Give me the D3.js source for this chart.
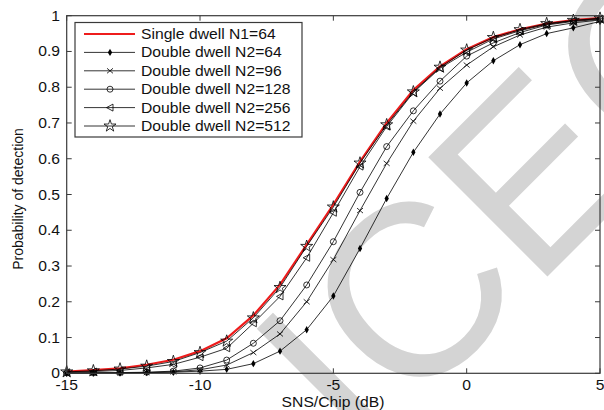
<!DOCTYPE html>
<html><head><meta charset="utf-8">
<script src="https://cdn.jsdelivr.net/npm/d3@7"></script>
<style>body{margin:0;background:#fff}svg{display:block}text{font-family:"Liberation Sans",Arial,sans-serif}</style>
</head><body><svg id="c" width="604" height="410"></svg>
<script>
const snr = [-15,-14,-13,-12,-11,-10,-9,-8,-7,-6,-5,-4,-3,-2,-1,0,1,2,3,4,5];
const singleN1_64 = [0.005,0.009,0.014,0.024,0.038,0.062,0.098,0.162,0.248,0.36,0.472,0.592,0.70,0.792,0.858,0.906,0.940,0.962,0.978,0.988,0.993];
const doubleN2_64 = [0.000,0.001,0.001,0.002,0.003,0.006,0.011,0.027,0.062,0.122,0.216,0.349,0.489,0.618,0.725,0.812,0.874,0.919,0.950,0.966,0.984];
const doubleN2_96 = [0.000,0.001,0.001,0.002,0.004,0.010,0.023,0.058,0.110,0.200,0.318,0.455,0.587,0.705,0.797,0.862,0.913,0.946,0.968,0.980,0.988];
const doubleN2_128 = [0.001,0.001,0.002,0.003,0.006,0.015,0.037,0.084,0.147,0.247,0.368,0.506,0.634,0.734,0.817,0.887,0.924,0.953,0.974,0.984,0.990];
const doubleN2_256 = [0.003,0.005,0.008,0.015,0.025,0.045,0.070,0.140,0.215,0.323,0.449,0.578,0.690,0.785,0.853,0.898,0.935,0.958,0.976,0.986,0.992];
const doubleN2_512 = [0.004,0.007,0.012,0.020,0.033,0.058,0.090,0.155,0.240,0.355,0.465,0.588,0.695,0.787,0.856,0.904,0.939,0.961,0.978,0.987,0.993];
const legendLabels = ["Single dwell N1=64","Double dwell N2=64","Double dwell N2=96","Double dwell N2=128","Double dwell N2=256","Double dwell N2=512"];
const markerTypes = ["none","diamond","x","circle","tri","star"];
const xTicks = [-15,-10,-5,0,5];
const yTicks = [0,0.1,0.2,0.3,0.4,0.5,0.6,0.7,0.8,0.9,1];
const yTickLabels = ["0","0.1","0.2","0.3","0.4","0.5","0.6","0.7","0.8","0.9","1"];
const xLabel = "SNS/Chip (dB)";
const yLabel = "Probability of detection";
const watermark = "ICEC";

const series = [singleN1_64, doubleN2_64, doubleN2_96, doubleN2_128, doubleN2_256, doubleN2_512];

const svg = d3.select("#c");
const L = 66.7, R = 600, T = 15.7, B = 373.3;
const x = d3.scaleLinear().domain([-15,5]).range([L,R]);
const y = d3.scaleLinear().domain([0,1]).range([B,T]);
const SX = 1.12, FS = 14, AX = "#3a3a3a";

svg.append("rect").attr("width",604).attr("height",410).attr("fill","#fff");

// watermark
svg.append("text").attr("transform","translate(360,464) rotate(-45)")
  .attr("font-size",245).attr("fill","#d4d4d4").text(watermark);

function stext(px, py, str, anchor, rot){
  const g = svg.append("g").attr("transform",`translate(${px},${py})` + (rot?` rotate(${rot})`:"") + (rot?"":` scale(${SX},1)`));
  g.append("text").attr("text-anchor",anchor).attr("font-size",FS).attr("fill","#111").text(str);
}

const line = d3.line().x((d,i)=>x(snr[i])).y(d=>y(d));

function marker(g, type, cx, cy){
  if(type==="diamond"){
    g.append("path").attr("d",d3.symbol(d3.symbolDiamond,16)()).attr("transform",`translate(${cx},${cy})`).attr("fill","#000");
  } else if(type==="x"){
    g.append("path").attr("d","M-3,-2.5L3,2.5M-3,2.5L3,-2.5").attr("transform",`translate(${cx},${cy})`).attr("stroke","#000").attr("stroke-width",0.8).attr("fill","none");
  } else if(type==="circle"){
    g.append("circle").attr("cx",cx).attr("cy",cy).attr("r",3).attr("stroke","#000").attr("stroke-width",0.8).attr("fill","none");
  } else if(type==="tri"){
    g.append("path").attr("d","M-3.5,0L3,-3.5L3,3.5Z").attr("transform",`translate(${cx},${cy})`).attr("stroke","#000").attr("stroke-width",0.8).attr("fill","none");
  } else if(type==="star"){
    g.append("path").attr("d",d3.symbol(d3.symbolStar,45)()).attr("transform",`translate(${cx},${cy})`).attr("stroke","#000").attr("stroke-width",0.8).attr("fill","none");
  }
}

const plot = svg.append("g");
// red single dwell first
plot.append("path").attr("d",line(singleN1_64)).attr("fill","none").attr("stroke","#ee1c1c").attr("stroke-width",2.2);
for(let s=1;s<series.length;s++){
  plot.append("path").attr("d",line(series[s])).attr("fill","none").attr("stroke","#000").attr("stroke-width",0.8);
  series[s].forEach((v,i)=>marker(plot, markerTypes[s], x(snr[i]), y(v)));
}

// axes box + ticks
const ax = svg.append("g");
ax.append("rect").attr("x",L).attr("y",T).attr("width",R-L).attr("height",B-T).attr("fill","none").attr("stroke",AX).attr("stroke-width",1.2);
xTicks.forEach(t=>{
  ax.append("line").attr("x1",x(t)).attr("x2",x(t)).attr("y1",B).attr("y2",B-5).attr("stroke",AX);
  ax.append("line").attr("x1",x(t)).attr("x2",x(t)).attr("y1",T).attr("y2",T+5).attr("stroke",AX);
  stext(x(t), 390, String(t), "middle");
});
yTicks.forEach((t,i)=>{
  ax.append("line").attr("x1",L).attr("x2",L+5).attr("y1",y(t)).attr("y2",y(t)).attr("stroke",AX);
  ax.append("line").attr("x1",R).attr("x2",R-5).attr("y1",y(t)).attr("y2",y(t)).attr("stroke",AX);
  stext(60, y(t)+5, yTickLabels[i], "end");
});
stext(333, 407, xLabel, "middle");
stext(23, 199, yLabel, "middle", -90);

// legend
const lg = svg.append("g");
lg.append("rect").attr("x",75).attr("y",22.5).attr("width",227).attr("height",114.5).attr("fill","#fff").attr("stroke",AX).attr("stroke-width",1.2);
const rowY = d3.scaleLinear().domain([0,5]).range([34,126]);
legendLabels.forEach((lab,i)=>{
  const cy = rowY(i);
  if(i===0){
    lg.append("line").attr("x1",84).attr("x2",135).attr("y1",cy).attr("y2",cy).attr("stroke","#ee1c1c").attr("stroke-width",2.2);
  } else {
    lg.append("line").attr("x1",84).attr("x2",135).attr("y1",cy).attr("y2",cy).attr("stroke","#000").attr("stroke-width",0.8);
    marker(lg, markerTypes[i], 110, cy);
  }
  const g = lg.append("g").attr("transform",`translate(141,${cy+5}) scale(${SX},1)`);
  g.append("text").attr("font-size",FS).attr("fill","#111").text(lab);
});
</script></body></html>
